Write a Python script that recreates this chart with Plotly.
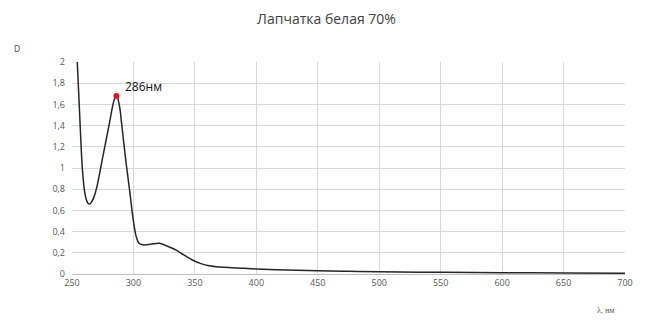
import plotly.graph_objects as go

wavelength = [252, 254.3, 256.5, 258.6, 260.5, 262, 263.2, 264.5, 266, 268, 270, 275.3, 280.7, 283, 285,
              286.1, 287, 289, 290.2, 294.2, 297, 299.6, 302.3, 304.5, 307.7, 314, 321, 327, 334.7,
              341, 348, 355, 361.6, 370, 380, 388.6, 400, 425, 450, 475, 500, 550, 600, 650, 700]
absorbance = [2.5, 2.0, 1.437, 0.965, 0.76, 0.69, 0.665, 0.66, 0.68, 0.73, 0.81, 1.12, 1.437, 1.58, 1.665,
              1.68, 1.665, 1.56, 1.437, 1.03, 0.78, 0.53, 0.35, 0.29, 0.275, 0.28, 0.29, 0.265, 0.226,
              0.18, 0.132, 0.098, 0.078, 0.066, 0.059, 0.054, 0.048, 0.038, 0.03, 0.025, 0.021, 0.016,
              0.012, 0.010, 0.008]
peak_x = [286.1]
peak_y = [1.68]
peak_label = "286нм"

fig = go.Figure()
fig.add_trace(go.Scatter(x=wavelength, y=absorbance, mode="lines",
                         line=dict(color="#262626", width=1.5, shape="spline", smoothing=1.0),
                         hoverinfo="skip", showlegend=False))
fig.add_trace(go.Scatter(x=peak_x, y=peak_y, mode="markers",
                         marker=dict(color="#e8141b", size=6), showlegend=False, cliponaxis=False))

# page body has an 8px margin, so the figure is sized to fit the 645x322 window
fig.update_layout(
    width=637, height=314,
    margin=dict(l=64, r=17, t=54, b=48),
    paper_bgcolor="white", plot_bgcolor="white",
    separators=", ",
    title=dict(text="Лапчатка белая 70%", x=0.5, xanchor="center", y=0.965, yanchor="middle",
               font=dict(size=14, color="#404040", family="Open Sans")),
    font=dict(family="Open Sans", size=9, color="#595959"),
    xaxis=dict(range=[250, 700], tickvals=[250, 300, 350, 400, 450, 500, 550, 600, 650, 700],
               showgrid=True, gridcolor="#d9d9d9", gridwidth=1, zeroline=False,
               showline=True, linecolor="#bfbfbf", linewidth=1, ticks="",
               tickfont=dict(size=9, color="#595959")),
    yaxis=dict(range=[0, 2], dtick=0.2, tick0=0, showgrid=True, gridcolor="#d9d9d9", gridwidth=1,
               zeroline=False, showline=False, ticks="", ticklabelstandoff=6,
               tickfont=dict(size=9, color="#595959")),
    annotations=[
        dict(text=peak_label, x=peak_x[0], y=peak_y[0], xref="x", yref="y", xanchor="left",
             yanchor="middle", xshift=7, yshift=9, showarrow=False,
             font=dict(color="#111111", size=12, family="Open Sans")),
        dict(text="D", xref="paper", yref="paper", x=-0.1, y=1.06, xanchor="center", yanchor="middle",
             showarrow=False, font=dict(size=8, color="#595959", family="DejaVu Sans")),
        dict(text="λ, нм", xref="paper", yref="paper", x=0.965, y=-0.17, xanchor="center", yanchor="middle",
             showarrow=False, font=dict(size=8, color="#595959", family="Liberation Serif")),
    ],
)

fig.write_html("out.html")
